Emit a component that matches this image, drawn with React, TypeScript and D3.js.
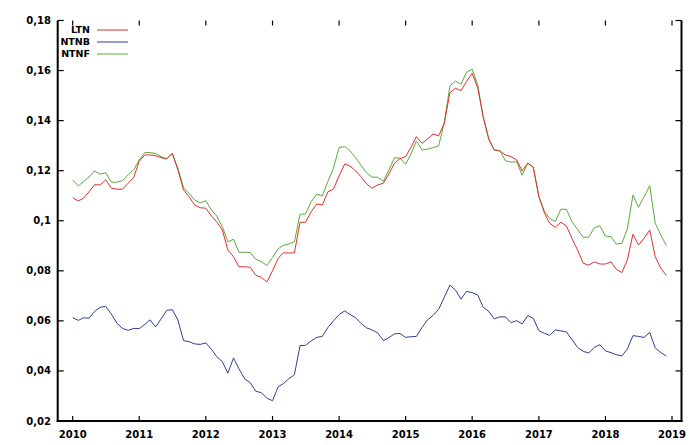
import React from "react";
import * as d3 from "d3";

const yearTicks = [2010, 2011, 2012, 2013, 2014, 2015, 2016, 2017, 2018, 2019];
const yTicks = [0.02, 0.04, 0.06, 0.08, 0.1, 0.12, 0.14, 0.16, 0.18];
const yTickLabels = ["0,02", "0,04", "0,06", "0,08", "0,1", "0,12", "0,14", "0,16", "0,18"];
const seriesNames = ["LTN", "NTNB", "NTNF"];
const seriesColors = ["#e0302a", "#2f3f92", "#5aab3c"];

const LTN = [
  0.1092, 0.1079, 0.1090, 0.1116, 0.1144, 0.1143, 0.1164, 0.1130, 0.1126, 0.1126, 0.1150, 0.1172,
  0.1238, 0.1263, 0.1263, 0.1260, 0.1252, 0.1247, 0.1269, 0.1203, 0.1123, 0.1096, 0.1063, 0.1052,
  0.1050, 0.1019, 0.0996, 0.0963, 0.0883, 0.0856, 0.0816, 0.0816, 0.0814, 0.0782, 0.0774, 0.0755,
  0.0800, 0.0850, 0.0872, 0.0871, 0.0872, 0.0994, 0.0994, 0.1036, 0.1067, 0.1063, 0.1116, 0.1126,
  0.1179, 0.1227, 0.1219, 0.1200, 0.1176, 0.1147, 0.1130, 0.1143, 0.1150, 0.1187, 0.1230, 0.1248,
  0.1256, 0.1296, 0.1336, 0.1309, 0.1327, 0.1347, 0.1339, 0.1389, 0.1512, 0.1529, 0.1520, 0.1556,
  0.1589, 0.1529, 0.1416, 0.1325, 0.1283, 0.1279, 0.1263, 0.1256, 0.1243, 0.1199, 0.1230, 0.1214,
  0.1096, 0.1030, 0.0990, 0.0974, 0.0994, 0.0979, 0.0930, 0.0883, 0.0830, 0.0823, 0.0836, 0.0827,
  0.0827, 0.0836, 0.0806, 0.0793, 0.0843, 0.0946, 0.0903, 0.0930, 0.0963, 0.0856, 0.0810, 0.0781,
];

const NTNB = [
  0.0613, 0.0602, 0.0612, 0.0611, 0.0638, 0.0654, 0.0658, 0.0627, 0.0590, 0.0570, 0.0562, 0.0570,
  0.0569, 0.0586, 0.0604, 0.0576, 0.0608, 0.0642, 0.0645, 0.0604, 0.0521, 0.0517, 0.0508, 0.0506,
  0.0512, 0.0486, 0.0457, 0.0437, 0.0391, 0.0452, 0.0408, 0.0369, 0.0353, 0.0319, 0.0313, 0.0291,
  0.0281, 0.0337, 0.0349, 0.0369, 0.0385, 0.0501, 0.0502, 0.0520, 0.0534, 0.0538, 0.0574, 0.0600,
  0.0625, 0.0640, 0.0626, 0.0613, 0.0590, 0.0572, 0.0564, 0.0552, 0.0521, 0.0533, 0.0548, 0.0550,
  0.0534, 0.0537, 0.0538, 0.0574, 0.0604, 0.0622, 0.0646, 0.0694, 0.0743, 0.0723, 0.0687, 0.0718,
  0.0713, 0.0703, 0.0655, 0.0638, 0.0608, 0.0616, 0.0616, 0.0593, 0.0601, 0.0588, 0.0621, 0.0610,
  0.0561, 0.0550, 0.0542, 0.0564, 0.0560, 0.0556, 0.0526, 0.0494, 0.0478, 0.0472, 0.0494, 0.0505,
  0.0480, 0.0473, 0.0465, 0.0460, 0.0488, 0.0541, 0.0538, 0.0534, 0.0554, 0.0492, 0.0473, 0.0460,
];

const NTNF = [
  0.1162, 0.1139, 0.1156, 0.1175, 0.1199, 0.1186, 0.1192, 0.1154, 0.1154, 0.1160, 0.1184, 0.1203,
  0.1243, 0.1273, 0.1272, 0.1269, 0.1256, 0.1247, 0.1269, 0.1210, 0.1131, 0.1110, 0.1083, 0.1071,
  0.1080, 0.1043, 0.1019, 0.0976, 0.0916, 0.0926, 0.0874, 0.0874, 0.0873, 0.0846, 0.0837, 0.0821,
  0.0853, 0.0888, 0.0902, 0.0907, 0.0916, 0.1026, 0.1027, 0.1076, 0.1107, 0.1099, 0.1158, 0.1210,
  0.1293, 0.1296, 0.1280, 0.1253, 0.1222, 0.1191, 0.1174, 0.1174, 0.1157, 0.1203, 0.1252, 0.1250,
  0.1226, 0.1269, 0.1319, 0.1283, 0.1286, 0.1292, 0.1299, 0.1392, 0.1538, 0.1558, 0.1546, 0.1593,
  0.1606, 0.1542, 0.1416, 0.1329, 0.1283, 0.1280, 0.1240, 0.1234, 0.1236, 0.1182, 0.1230, 0.1214,
  0.1096, 0.1036, 0.1010, 0.0996, 0.1046, 0.1046, 0.0996, 0.0966, 0.0934, 0.0934, 0.0972, 0.0980,
  0.0939, 0.0936, 0.0907, 0.0910, 0.0967, 0.1103, 0.1054, 0.1096, 0.1140, 0.0990, 0.0943, 0.0901,
];

const allSeries = [LTN, NTNB, NTNF];
const months = d3.timeMonth.range(new Date(2010, 0, 1), new Date(2019, 0, 1));

export default function App() {
  const W = 697;
  const H = 445;
  const x = d3
    .scaleTime()
    .domain([new Date(2010, 0, 1), new Date(2019, 0, 1)])
    .range([72.7, 672]);
  const y = d3.scaleLinear().domain([0.02, 0.18]).range([421, 20.5]);
  const left = 57.7;
  const right = 681.5;
  const top = y(0.18);
  const bottom = y(0.02);
  const font = "'DejaVu Sans', Verdana, sans-serif";

  const line = d3
    .line<number>()
    .x((_, i) => x(months[i]))
    .y((d) => y(d));

  // draw order: blue, green, red on top? reference shows red over green near overlaps
  const order = [1, 2, 0];

  return (
    <svg
      width={W}
      height={H}
      style={{ position: "absolute", left: 0, top: 0, background: "#fff" }}
    >
      <rect x={0} y={0} width={W} height={H} fill="#fff" />
      {order.map((k) => (
        <path
          key={seriesNames[k]}
          d={line(allSeries[k]) || ""}
          fill="none"
          stroke={seriesColors[k]}
          strokeWidth={1}
          strokeLinejoin="round"
        />
      ))}
      {/* frame */}
      <line x1={left} x2={left} y1={top} y2={bottom + 1} stroke="#000" strokeWidth={2} />
      <line x1={left - 1} x2={right + 1} y1={bottom} y2={bottom} stroke="#000" strokeWidth={2} />
      <line x1={right} x2={right} y1={top} y2={bottom + 1} stroke="#000" strokeWidth={2} />
      {/* y ticks */}
      {yTicks.map((t, i) => (
        <g key={"y" + t}>
          <line x1={left} x2={left + 6} y1={y(t)} y2={y(t)} stroke="#000" strokeWidth={1.2} />
          <line x1={right - 6} x2={right} y1={y(t)} y2={y(t)} stroke="#000" strokeWidth={1.2} />
          <text
            x={51}
            y={y(t)}
            dy="0.35em"
            textAnchor="end"
            fontFamily={font}
            fontWeight="bold"
            fontSize={10}
            fill="#000"
          >
            {yTickLabels[i]}
          </text>
        </g>
      ))}
      {/* x ticks */}
      {yearTicks.map((yr) => {
        const px = x(new Date(yr, 0, 1));
        return (
          <g key={"x" + yr}>
            <line x1={px} x2={px} y1={bottom} y2={bottom - 5} stroke="#000" strokeWidth={1.2} />
            <line x1={px} x2={px} y1={top} y2={top + 5} stroke="#000" strokeWidth={1.2} />
            <text
              x={px}
              y={437.5}
              textAnchor="middle"
              fontFamily={font}
              fontWeight="bold"
              fontSize={10}
              fill="#000"
            >
              {yr}
            </text>
          </g>
        );
      })}
      {/* legend */}
      {seriesNames.map((n, i) => (
        <g key={"leg" + n}>
          <text
            x={90}
            y={30 + i * 12}
            dy="0.35em"
            textAnchor="end"
            fontFamily={font}
            fontWeight="bold"
            fontSize={9.5}
            fill="#000"
          >
            {n}
          </text>
          <line
            x1={97}
            x2={128}
            y1={30 + i * 12}
            y2={30 + i * 12}
            stroke={seriesColors[i]}
            strokeWidth={1}
          />
        </g>
      ))}
    </svg>
  );
}
